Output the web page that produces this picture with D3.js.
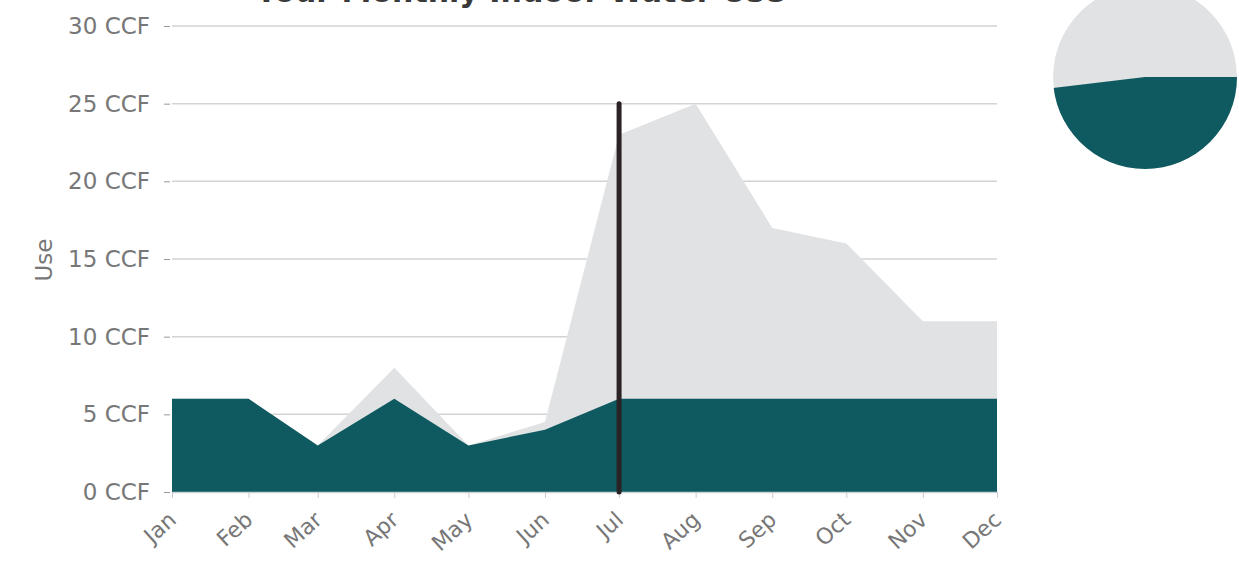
<!DOCTYPE html>
<html lang="en">
<head>
	<meta charset="UTF-8">
	<title>Your Monthly Indoor Water Use</title>
	<style>
		body { margin: 0; background: #fff; }
		svg { display: block; font-family: "DejaVu Sans", Verdana, sans-serif; }
	</style>
</head>
<body>
	<div id="chart"></div>

	<script src="https://d3js.org/d3.v7.min.js"></script>
	<script type="text/javascript">

		// months (first of each month)
		var months = ["Jan", "Feb", "Mar", "Apr", "May", "Jun", "Jul", "Aug", "Sep", "Oct", "Nov", "Dec"];
		// total use, CCF
		var totalUse = [6, 6, 3, 8, 3, 4.5, 23, 25, 17, 16, 11, 11];
		// indoor use, CCF
		var indoorUse = [6, 6, 3, 6, 3, 4, 6, 6, 6, 6, 6, 6];
		var yTicks = [0, 5, 10, 15, 20, 25, 30];
		var markerMonth = "Jul";
		var markerValue = 25;
		// gauge fill height (fraction of diameter) at left, centre, right
		var gaugeLevels = [0.44, 0.5, 0.5];

		var width = 1239;
		var height = 563;
		var teal = "#0f5a60";
		var grey = "#e1e2e4";

		var data = months.map(function (m, i) {
			return { month: m, date: new Date(2019, i, 1), total: totalUse[i], indoor: indoorUse[i] };
		});

		var svg = d3.select("#chart")
			.append("svg")
			.attr("width", width)
			.attr("height", height);

		var x = d3.scaleTime()
			.domain([new Date(2019, 0, 1), new Date(2019, 11, 1)])
			.range([172, 997]);

		var y = d3.scaleLinear()
			.domain([0, 30])
			.range([492, 26]);

		// title (mostly cut off by the top edge, as in the original)
		svg.append("text")
			.attr("x", 520)
			.attr("y", 2)
			.attr("text-anchor", "middle")
			.attr("font-size", 30)
			.attr("font-weight", "bold")
			.attr("fill", "#3a3a3a")
			.text("Your Monthly Indoor Water Use");

		// grid lines
		svg.append("g")
			.selectAll("line")
			.data(yTicks.filter(function (d) { return d > 0; }))
			.enter()
			.append("line")
			.attr("x1", x.range()[0])
			.attr("x2", x.range()[1])
			.attr("y1", function (d) { return y(d); })
			.attr("y2", function (d) { return y(d); })
			.attr("stroke", "#d3d3d3")
			.attr("stroke-width", 1.5);

		// total use area
		var totalArea = d3.area()
			.x(function (d) { return x(d.date); })
			.y0(y(0))
			.y1(function (d) { return y(d.total); });

		svg.append("path")
			.datum(data)
			.attr("d", totalArea)
			.attr("fill", grey);

		// indoor use area
		var indoorArea = d3.area()
			.x(function (d) { return x(d.date); })
			.y0(y(0))
			.y1(function (d) { return y(d.indoor); });

		svg.append("path")
			.datum(data)
			.attr("d", indoorArea)
			.attr("fill", teal);

		// y axis
		var yAxis = svg.append("g")
			.attr("transform", "translate(170,0)")
			.call(d3.axisLeft(y)
				.tickValues(yTicks)
				.tickSize(6)
				.tickPadding(14)
				.tickFormat(function (d) { return d + " CCF"; }));
		yAxis.select(".domain").remove();
		yAxis.selectAll(".tick line").attr("stroke", "#999");
		yAxis.selectAll(".tick text")
			.attr("font-size", 23)
			.attr("font-family", "DejaVu Sans, sans-serif")
			.attr("fill", "#777");

		// x axis
		var xAxis = svg.append("g")
			.attr("transform", "translate(0," + y(0) + ")")
			.call(d3.axisBottom(x)
				.tickValues(data.map(function (d) { return d.date; }))
				.tickSize(6)
				.tickSizeOuter(0)
				.tickFormat(function (d, i) { return months[i]; }));
		xAxis.select(".domain").attr("stroke", "#c9d3d6").attr("stroke-width", 1.5);
		xAxis.selectAll(".tick line").attr("stroke", "#ccc");
		xAxis.selectAll(".tick text")
			.attr("font-size", 22)
			.attr("font-family", "DejaVu Sans, sans-serif")
			.attr("fill", "#777")
			.attr("text-anchor", "end")
			.attr("x", 0)
			.attr("y", 0)
			.attr("dy", "0.35em")
			.attr("transform", "translate(0,24) rotate(-42)");

		// y axis title
		svg.append("text")
			.attr("transform", "translate(52,260) rotate(-90)")
			.attr("text-anchor", "middle")
			.attr("font-size", 23)
			.attr("fill", "#777")
			.text("Use");

		// current month marker
		var markerDate = data[months.indexOf(markerMonth)].date;
		svg.append("line")
			.attr("x1", x(markerDate))
			.attr("x2", x(markerDate))
			.attr("y1", y(0))
			.attr("y2", y(markerValue))
			.attr("stroke", "#2a2224")
			.attr("stroke-width", 5)
			.attr("stroke-linecap", "round");

		// gauge
		var cx = 1145, cy = 77, r = 92;
		var gx = d3.scaleLinear().domain([0, gaugeLevels.length - 1]).range([cx - r, cx + r]);
		var gy = d3.scaleLinear().domain([0, 1]).range([cy + r, cy - r]);

		svg.append("clipPath")
			.attr("id", "gauge-clip")
			.append("circle")
			.attr("cx", cx)
			.attr("cy", cy)
			.attr("r", r);

		var gauge = svg.append("g").attr("clip-path", "url(#gauge-clip)");

		gauge.append("circle")
			.attr("cx", cx)
			.attr("cy", cy)
			.attr("r", r)
			.attr("fill", grey);

		gauge.append("path")
			.datum(gaugeLevels)
			.attr("d", d3.area()
				.x(function (d, i) { return gx(i); })
				.y0(gy(0))
				.y1(function (d) { return gy(d); }))
			.attr("fill", teal);

	</script>
</body>
</html>
